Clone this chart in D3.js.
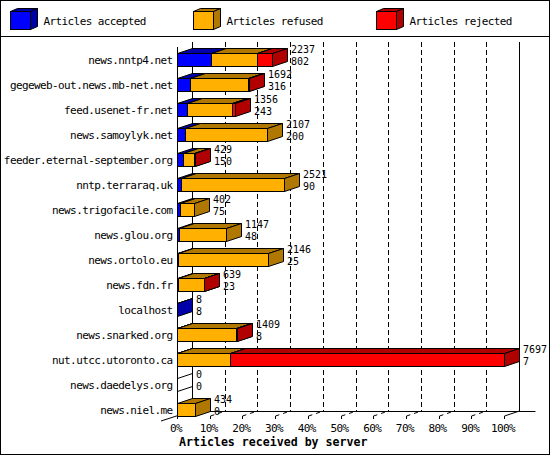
<!DOCTYPE html>
<html>
<head>
<meta charset="utf-8">
<script src="https://cdn.jsdelivr.net/npm/d3@7"></script>
<style>
  body { margin: 0; background: #fff; }
  text { font-family: "DejaVu Sans Mono", monospace; font-size: 11px; letter-spacing: -0.6px; fill: #000; }
  .val { font-size: 10px; letter-spacing: 0px; }
</style>
</head>
<body>
<script>
// values
const hosts = ["news.nntp4.net", "gegeweb-out.news.mb-net.net", "feed.usenet-fr.net", "news.samoylyk.net",
    "feeder.eternal-september.org", "nntp.terraraq.uk", "news.trigofacile.com", "news.glou.org",
    "news.ortolo.eu", "news.fdn.fr", "localhost", "news.snarked.org", "nut.utcc.utoronto.ca",
    "news.daedelys.org", "news.niel.me"];
const received = [2237, 1692, 1356, 2107, 429, 2521, 402, 1147, 2146, 639, 8, 1409, 7697, 0, 434];
const accepted = [802, 316, 243, 200, 150, 90, 75, 48, 25, 23, 8, 8, 7, 0, 0];
const refused  = [1083, 1354, 1058, 1907, 260, 2431, 327, 1099, 2121, 604, 0, 1381, 1247, 0, 434];
const rejected = [352, 22, 55, 0, 19, 0, 0, 0, 0, 12, 0, 20, 6443, 0, 0];
const seriesNames = ["Articles accepted", "Articles refused", "Articles rejected"];
const pctTicks = [0, 10, 20, 30, 40, 50, 60, 70, 80, 90, 100];
const axisTitle = "Articles received by server";

const keys = ["accepted", "refused", "rejected"];
const colors = {
    accepted: ["#0000ff", "#0000a8"],
    refused: ["#ffb000", "#b07800"],
    rejected: ["#ff0000", "#b00000"]
};

const W = 550, H = 455;
const left = 177, right = 504, DX = 15, DY = 5, floorY = 416;
const px = v => Math.round(v) + 0.5;

const svg = d3.select("body").append("svg").attr("width", W).attr("height", H);

svg.append("rect")
    .attr("x", 0.5).attr("y", 0.5).attr("width", W - 1).attr("height", H - 1)
    .attr("fill", "#fff").attr("stroke", "#000");
svg.append("line")
    .attr("x1", 0).attr("x2", W).attr("y1", 36.5).attr("y2", 36.5)
    .attr("stroke", "#000");

// legend: small cubes
const legend = svg.append("g").selectAll("g")
    .data(keys)
    .join("g")
    .attr("transform", (d, i) => `translate(${10.5 + i * 183},11.5)`);
legend.append("rect")
    .attr("width", 20).attr("height", 18)
    .attr("fill", d => colors[d][0]).attr("stroke", "#000");
legend.append("path")
    .attr("d", "M0,0L7,-3L27,-3L20,0Z")
    .attr("fill", d => colors[d][1]).attr("stroke", "#000");
legend.append("path")
    .attr("d", "M20,0L27,-3L27,15L20,18Z")
    .attr("fill", d => colors[d][1]).attr("stroke", "#000");
legend.append("text")
    .attr("x", 33).attr("y", 13.5)
    .text((d, i) => seriesNames[i]);

const x = d3.scaleLinear().domain([0, d3.max(received)]).range([left, right]);
const xp = d3.scaleLinear().domain([0, 100]).range([left, right]);
const y = d3.scaleBand().domain(hosts).range([47, 422]).paddingInner(0.48).paddingOuter(0.24);

// walls and grid
const walls = svg.append("g").attr("fill", "none").attr("stroke", "#000");
walls.selectAll(".grid")
    .data(pctTicks.slice(1, -1))
    .join("line")
    .attr("x1", d => px(xp(d) + DX)).attr("x2", d => px(xp(d) + DX))
    .attr("y1", 42).attr("y2", floorY - DY)
    .attr("stroke-dasharray", "5,3");
walls.selectAll(".floorgrid")
    .data(pctTicks.slice(1, -1))
    .join("line")
    .attr("x1", d => px(xp(d))).attr("y1", floorY)
    .attr("x2", d => px(xp(d) + DX)).attr("y2", floorY - DY)
    .attr("stroke-dasharray", "4,4");
walls.append("line").attr("x1", px(left)).attr("x2", px(left)).attr("y1", 47).attr("y2", floorY);
walls.append("line").attr("x1", px(left + DX)).attr("x2", px(left + DX)).attr("y1", 42).attr("y2", floorY - DY);
walls.append("line").attr("x1", px(right + DX)).attr("x2", px(right + DX)).attr("y1", 42).attr("y2", floorY - DY);
walls.append("line").attr("x1", px(left + DX)).attr("x2", px(right + 2 * DX + 1))
    .attr("y1", floorY - DY + 0.5).attr("y2", floorY - DY + 0.5);
walls.append("line").attr("x1", left - 16).attr("y1", floorY + 5)
    .attr("x2", left + DX).attr("y2", floorY - DY);
walls.append("line").attr("x1", px(right)).attr("y1", floorY)
    .attr("x2", px(right + DX)).attr("y2", floorY - DY);
walls.selectAll(".tick")
    .data(pctTicks)
    .join("line")
    .attr("x1", d => px(xp(d))).attr("x2", d => px(xp(d)))
    .attr("y1", floorY).attr("y2", floorY + 3);

// host labels
svg.append("g").selectAll("text")
    .data(hosts)
    .join("text")
    .attr("x", 172.5)
    .attr("y", d => y(d) + y.bandwidth() / 2 + 4)
    .attr("text-anchor", "end")
    .text(d => d);

// 3D stacked bars
const rows = hosts.map((h, i) => ({
    host: h, total: received[i],
    accepted: accepted[i], refused: refused[i], rejected: rejected[i]
}));
const stacked = d3.stack().keys(keys)(rows);

const bars = svg.append("g").attr("stroke", "#000");
rows.forEach((r, i) => {
    const yt = px(y(r.host));
    const yb = yt + Math.round(y.bandwidth());
    const g = bars.append("g");
    if (r.total === 0) {
        g.append("path")
            .attr("fill", "none")
            .attr("d", `M${px(left)},${yt}L${px(left + DX)},${yt - DY}M${px(left)},${yb}L${px(left + DX)},${yb - DY}`);
    }
    stacked.forEach(s => {
        const [a, b] = s[i];
        if (b - a <= 0) return;
        const x0 = px(x(a)), x1 = px(x(b));
        const [front, dark] = colors[s.key];
        g.append("rect")
            .attr("x", x0).attr("y", yt)
            .attr("width", x1 - x0).attr("height", yb - yt)
            .attr("fill", front);
        g.append("path")
            .attr("d", `M${x0},${yt}L${x0 + DX},${yt - DY}L${x1 + DX},${yt - DY}L${x1},${yt}Z`)
            .attr("fill", dark);
        g.append("path")
            .attr("d", `M${x1},${yt}L${x1 + DX},${yt - DY}L${x1 + DX},${yb - DY}L${x1},${yb}Z`)
            .attr("fill", dark);
    });
});

// value labels: total received, then accepted
const vals = svg.append("g").selectAll("g")
    .data(rows)
    .join("g")
    .attr("transform", d => `translate(${Math.round(x(d.total)) + DX + 4},${Math.round(y(d.host))})`);
vals.append("text").attr("class", "val").attr("y", 0).text(d => d.total);
vals.append("text").attr("class", "val").attr("y", 12).text(d => d.accepted);

// x tick labels and title
svg.append("g").selectAll("text")
    .data(pctTicks)
    .join("text")
    .attr("x", d => xp(d) - 1)
    .attr("y", 432)
    .attr("text-anchor", "middle")
    .text(d => d + "%");

svg.append("text")
    .attr("x", 179).attr("y", 446)
    .style("font-weight", "bold").style("font-size", "11.6px").style("letter-spacing", "0px")
    .text(axisTitle);
</script>
</body>
</html>
